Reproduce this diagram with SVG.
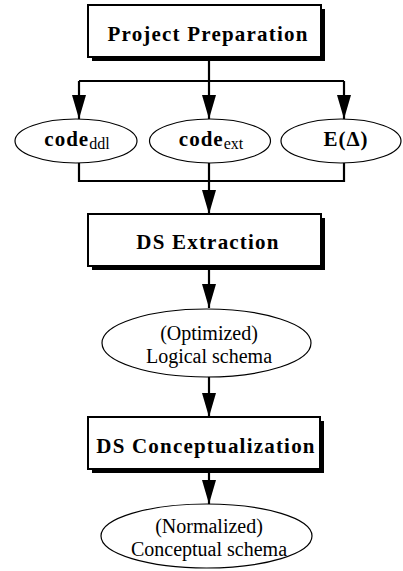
<svg xmlns="http://www.w3.org/2000/svg" width="403" height="571" viewBox="0 0 403 571">
<style>
.box{fill:#fff;stroke:#000;stroke-width:2}
.shadow{fill:#000}
.ell{fill:#fff;stroke:#000;stroke-width:1.2}
.title{font-family:"Liberation Serif","Times New Roman",serif;font-weight:bold;font-size:21px;letter-spacing:1.2px;text-anchor:middle}
.lbl{font-family:"Liberation Serif","Times New Roman",serif;font-size:20px;text-anchor:middle}
.bold{font-family:"Liberation Serif","Times New Roman",serif;font-weight:bold;font-size:21px;letter-spacing:1px;text-anchor:middle}
.sub{font-weight:normal;font-size:16px;letter-spacing:0}
.line{fill:none;stroke:#000;stroke-width:2.2}
</style>
<defs>
<marker id="ah" markerUnits="userSpaceOnUse" markerWidth="24" markerHeight="14" refX="24" refY="7" orient="auto" viewBox="0 0 24 14">
<path d="M0,0 L24,7 L0,14 Z" fill="#000"/>
</marker>
</defs>
<g id="connectors">
<path class="line" d="M209,57 V81"/>
<path class="line" d="M79,81 H344"/>
<path class="line" d="M79,81 V119" marker-end="url(#ah)"/>
<path class="line" d="M209,81 V119" marker-end="url(#ah)"/>
<path class="line" d="M344,81 V119" marker-end="url(#ah)"/>
<path class="line" d="M79,163 V181 H344 V163"/>
<path class="line" d="M209,163 V181"/>
<path class="line" d="M209,181 V214" marker-end="url(#ah)"/>
<path class="line" d="M209,266 V308" marker-end="url(#ah)"/>
<path class="line" d="M209,377 V417" marker-end="url(#ah)"/>
<path class="line" d="M209,469 V504" marker-end="url(#ah)"/>
</g>
<g id="project-preparation">
<rect class="shadow" x="92" y="9" width="233" height="52"/>
<rect class="box" x="88" y="5" width="233" height="52"/>
<text class="title" x="208" y="41">Project Preparation</text>
</g>
<g id="code-ddl">
<ellipse class="ell" cx="76" cy="141" rx="61" ry="22"/>
<text class="bold" x="77" y="146">code<tspan class="sub" dy="3">ddl</tspan></text>
</g>
<g id="code-ext">
<ellipse class="ell" cx="210" cy="141" rx="60.5" ry="22"/>
<text class="bold" x="211" y="146">code<tspan class="sub" dy="3">ext</tspan></text>
</g>
<g id="e-delta">
<ellipse class="ell" cx="341" cy="141" rx="60" ry="22"/>
<text class="bold" x="346" y="146">E(Δ)</text>
</g>
<g id="ds-extraction">
<rect class="shadow" x="92" y="218" width="233" height="52"/>
<rect class="box" x="88" y="214" width="233" height="52"/>
<text class="title" x="208" y="249">DS Extraction</text>
</g>
<g id="logical-schema">
<ellipse class="ell" cx="206.5" cy="343" rx="104.5" ry="34"/>
<text class="lbl" x="209" y="340">(Optimized)</text>
<text class="lbl" x="209" y="363">Logical schema</text>
</g>
<g id="ds-conceptualization">
<rect class="shadow" x="92" y="421" width="232" height="52"/>
<rect class="box" x="88" y="417" width="232" height="52"/>
<text class="title" x="206" y="453">DS Conceptualization</text>
</g>
<g id="conceptual-schema">
<ellipse class="ell" cx="206.5" cy="536" rx="105.5" ry="32"/>
<text class="lbl" x="209" y="533">(Normalized)</text>
<text class="lbl" x="209" y="556">Conceptual schema</text>
</g>
</svg>
